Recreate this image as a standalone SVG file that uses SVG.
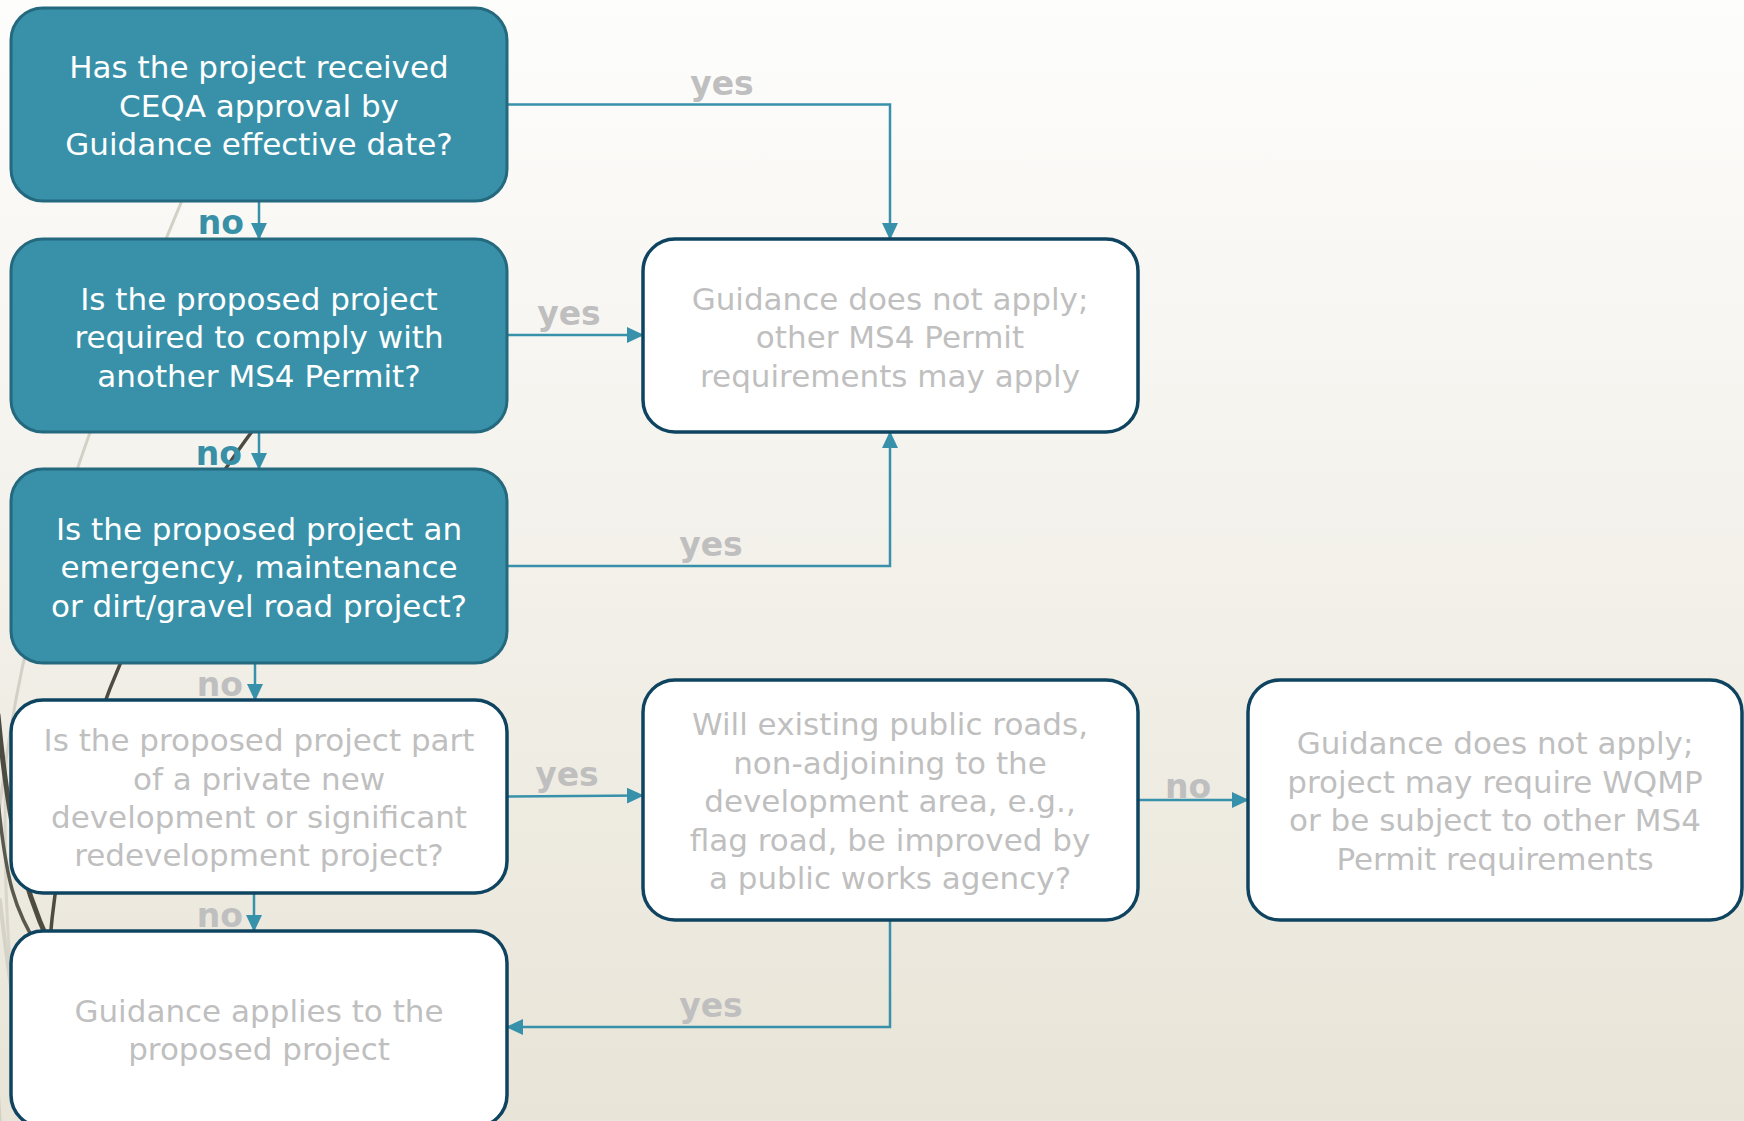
<svg xmlns="http://www.w3.org/2000/svg" width="1744" height="1121" viewBox="0 0 1744 1121">
  <defs>
    <linearGradient id="bg" x1="0" y1="0" x2="0" y2="1">
      <stop offset="0" stop-color="#FDFDFC"/>
      <stop offset="0.45" stop-color="#F4F2EC"/>
      <stop offset="1" stop-color="#E8E4D7"/>
    </linearGradient>
    <marker id="arr" markerUnits="userSpaceOnUse" markerWidth="17" markerHeight="16" refX="16" refY="8" orient="auto">
      <path d="M0,0 L17,8 L0,16 z" fill="#3891AB"/>
    </marker>
    <style>
      .q { fill: #3891A8; stroke: #25697E; stroke-width: 3; }
      .w { fill: #FFFFFF; stroke: #0F4461; stroke-width: 3.5; }
      .tw { font-family: "DejaVu Sans", "Liberation Sans", sans-serif; font-size: 31px; fill: #FFFFFF; text-anchor: middle; }
      .tg { font-family: "DejaVu Sans", "Liberation Sans", sans-serif; font-size: 31px; fill: #BFBFBF; text-anchor: middle; }
      .lbl { font-family: "DejaVu Sans", "Liberation Sans", sans-serif; font-size: 33px; font-weight: bold; fill: #BFBFBF; }
      .lblb { font-family: "DejaVu Sans", "Liberation Sans", sans-serif; font-size: 33px; font-weight: bold; fill: #3890A7; }
      .c { fill: none; stroke: #3891AB; stroke-width: 2.5; marker-end: url(#arr); }
      .deco { fill: none; stroke-linecap: round; }
    </style>
  </defs>

  <rect x="0" y="0" width="1744" height="1121" fill="url(#bg)"/>

  <g id="background-decoration">
    <path class="deco" d="M 215,120 C 130,330 40,520 6,760 S -5,1000 0,1121" stroke="#D3D0C6" stroke-width="3"/>
    <path class="deco" d="M 6,760 C 2,900 10,1000 30,1121" stroke="#D8D5CB" stroke-width="3"/>
    <path class="deco" d="M 0,900 C 10,990 20,1060 45,1121" stroke="#D5D2C8" stroke-width="4"/>
    <path class="deco" d="M 285,390 C 200,490 70,700 50,940" stroke="#4D4C43" stroke-width="3.5"/>
    <path class="deco" d="M -2,715 C 8,820 20,880 50,945" stroke="#4D4C43" stroke-width="5"/>
    <path class="deco" d="M -2,800 C 6,880 14,910 40,950" stroke="#5A594F" stroke-width="3.5"/>
  </g>

  <g id="connectors">
    <path class="c" d="M 507,104.5 H 890 V 239"/>
    <path class="c" d="M 259,201 V 239"/>
    <path class="c" d="M 507,335 H 643"/>
    <path class="c" d="M 259,432 V 469"/>
    <path class="c" d="M 507,566 H 890 V 432"/>
    <path class="c" d="M 255,663 V 700"/>
    <path class="c" d="M 507,796.5 L 643,795.5"/>
    <path class="c" d="M 254,893 V 931"/>
    <path class="c" d="M 1138,800 H 1248"/>
    <path class="c" d="M 890,920 V 1027 H 507"/>
    <text class="lbl" x="722" y="95" text-anchor="middle">yes</text>
    <text class="lblb" x="244" y="234" text-anchor="end">no</text>
    <text class="lbl" x="569" y="325" text-anchor="middle">yes</text>
    <text class="lblb" x="242" y="465" text-anchor="end">no</text>
    <text class="lbl" x="711" y="556" text-anchor="middle">yes</text>
    <text class="lbl" x="243" y="696" text-anchor="end">no</text>
    <text class="lbl" x="567" y="786" text-anchor="middle">yes</text>
    <text class="lbl" x="243" y="927" text-anchor="end">no</text>
    <text class="lbl" x="1188" y="798" text-anchor="middle">no</text>
    <text class="lbl" x="711" y="1017" text-anchor="middle">yes</text>
  </g>

  <g id="q1">
    <rect class="q" x="11" y="8" width="496" height="193" rx="32" ry="32"/>
    <text class="tw" x="259" y="78">Has the project received</text>
    <text class="tw" x="259" y="116.5">CEQA approval by</text>
    <text class="tw" x="259" y="155">Guidance effective date?</text>
  </g>

  <g id="q2">
    <rect class="q" x="11" y="239" width="496" height="193" rx="32" ry="32"/>
    <text class="tw" x="259" y="309.5">Is the proposed project</text>
    <text class="tw" x="259" y="348">required to comply with</text>
    <text class="tw" x="259" y="386.5">another MS4 Permit?</text>
  </g>

  <g id="q3">
    <rect class="q" x="11" y="469" width="496" height="194" rx="32" ry="32"/>
    <text class="tw" x="259" y="539.5">Is the proposed project an</text>
    <text class="tw" x="259" y="578">emergency, maintenance</text>
    <text class="tw" x="259" y="616.5">or dirt/gravel road project?</text>
  </g>

  <g id="q4">
    <rect class="w" x="11" y="700" width="496" height="193" rx="32" ry="32"/>
    <text class="tg" x="259" y="751">Is the proposed project part</text>
    <text class="tg" x="259" y="789.5">of a private new</text>
    <text class="tg" x="259" y="828">development or significant</text>
    <text class="tg" x="259" y="866">redevelopment project?</text>
  </g>

  <g id="r-applies">
    <rect class="w" x="11" y="931" width="496" height="196" rx="32" ry="32"/>
    <text class="tg" x="259" y="1022">Guidance applies to the</text>
    <text class="tg" x="259" y="1060">proposed project</text>
  </g>

  <g id="r-not-apply-ms4">
    <rect class="w" x="643" y="239" width="495" height="193" rx="32" ry="32"/>
    <text class="tg" x="890" y="309.5">Guidance does not apply;</text>
    <text class="tg" x="890" y="348">other MS4 Permit</text>
    <text class="tg" x="890" y="386.5">requirements may apply</text>
  </g>

  <g id="q5">
    <rect class="w" x="643" y="680" width="495" height="240" rx="32" ry="32"/>
    <text class="tg" x="890" y="735">Will existing public roads,</text>
    <text class="tg" x="890" y="773.5">non-adjoining to the</text>
    <text class="tg" x="890" y="812">development area, e.g.,</text>
    <text class="tg" x="890" y="850.5">flag road, be improved by</text>
    <text class="tg" x="890" y="889">a public works agency?</text>
  </g>

  <g id="r-wqmp">
    <rect class="w" x="1248" y="680" width="494" height="240" rx="32" ry="32"/>
    <text class="tg" x="1495" y="754">Guidance does not apply;</text>
    <text class="tg" x="1495" y="792.5">project may require WQMP</text>
    <text class="tg" x="1495" y="831">or be subject to other MS4</text>
    <text class="tg" x="1495" y="869.5">Permit requirements</text>
  </g>
</svg>
